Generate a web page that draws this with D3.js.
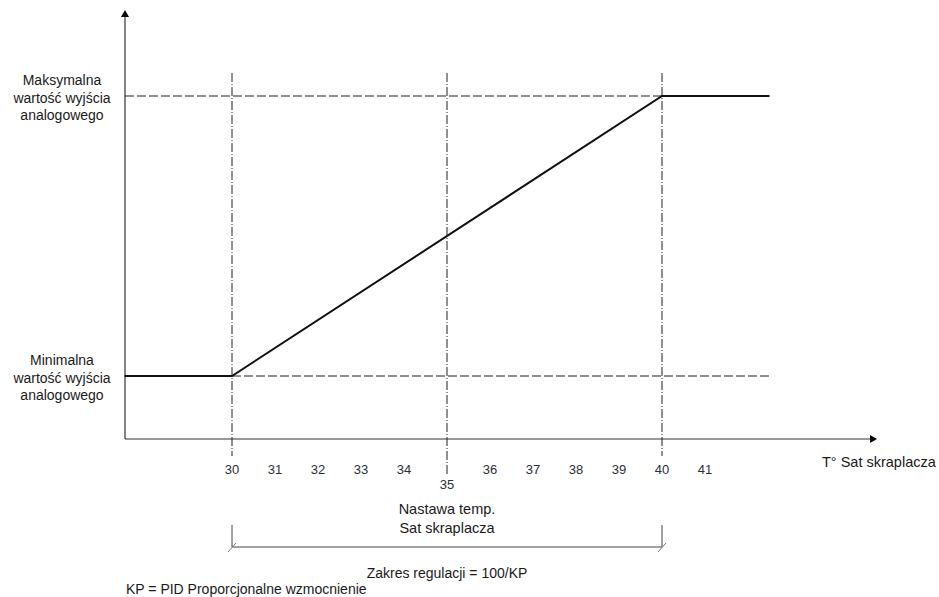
<!DOCTYPE html>
<html>
<head>
<meta charset="utf-8">
<script src="https://cdn.jsdelivr.net/npm/d3@7"></script>
<style>
  body { margin: 0; background: #fff; }
  svg text { font-family: "Liberation Sans", Arial, sans-serif; fill: #1a1a1a; }
</style>
</head>
<body>
<svg id="chart" width="939" height="597"></svg>
<script>
// control curve: output vs condenser saturation temperature
const curveT = [27.5, 30, 40, 42.5];
const curveOut = [0, 0, 100, 100];
const tickValues = [30, 31, 32, 33, 34, 35, 36, 37, 38, 39, 40, 41];
const guideTemps = [30, 35, 40];
const levelLabels = [
  { v: 100, lines: ['Maksymalna', 'wartość wyjścia', 'analogowego'] },
  { v: 0, lines: ['Minimalna', 'wartość wyjścia', 'analogowego'] }
];
const xTitle = 'T° Sat skraplacza';
const setpointLines = ['Nastawa temp.', 'Sat skraplacza'];
const rangeLabel = 'Zakres regulacji = 100/KP';
const footnote = 'KP = PID Proporcjonalne wzmocnienie';

const svg = d3.select('#chart');
const x = d3.scaleLinear().domain([30, 40]).range([232, 662]);
const y = d3.scaleLinear().domain([0, 100]).range([376, 96]);
const axisX0 = 125, axisY0 = 439;

// axes with arrowheads
svg.append('line').attr('x1', axisX0).attr('x2', axisX0).attr('y1', axisY0).attr('y2', 15)
  .attr('stroke', '#333').attr('stroke-width', 1.2);
svg.append('path').attr('d', `M${axisX0 - 4},17 L${axisX0},10 L${axisX0 + 4},17 Z`).attr('fill', '#000');
svg.append('line').attr('x1', axisX0).attr('x2', 872).attr('y1', axisY0).attr('y2', axisY0)
  .attr('stroke', '#333').attr('stroke-width', 1.2);
svg.append('path').attr('d', `M870,${axisY0 - 4} L877,${axisY0} L870,${axisY0 + 4} Z`).attr('fill', '#000');

// tick labels
svg.append('g').selectAll('text').data(tickValues).join('text')
  .attr('x', d => x(d)).attr('y', d => d === 35 ? 489 : 474)
  .attr('text-anchor', 'middle').attr('font-size', 13).style('fill', '#2b2f3a')
  .text(d => d);

// vertical dash-dot guides
svg.append('g').selectAll('line').data(guideTemps).join('line')
  .attr('x1', d => x(d)).attr('x2', d => x(d))
  .attr('y1', 73).attr('y2', d => d === 35 ? 476 : 456)
  .attr('stroke', '#222').attr('stroke-width', 1)
  .attr('stroke-dasharray', '9,2,1,2');

// horizontal dashed guides
svg.append('line').attr('x1', axisX0).attr('x2', x(40)).attr('y1', y(100)).attr('y2', y(100))
  .attr('stroke', '#222').attr('stroke-width', 1).attr('stroke-dasharray', '9,3');
svg.append('line').attr('x1', x(30)).attr('x2', 770).attr('y1', y(0)).attr('y2', y(0))
  .attr('stroke', '#222').attr('stroke-width', 1).attr('stroke-dasharray', '9,3');

// curve
const pts = curveT.map((t, i) => [x(t), y(curveOut[i])]);
svg.append('path').attr('d', d3.line()(pts)).attr('fill', 'none')
  .attr('stroke', '#111').attr('stroke-width', 2);

// level labels
levelLabels.forEach(l => {
  const t = svg.append('text').attr('text-anchor', 'middle').attr('font-size', 14);
  l.lines.forEach((s, i) => {
    t.append('tspan').attr('x', 62).attr('y', y(l.v) - 11 + i * 17.5).text(s);
  });
});

// x title
svg.append('text').attr('x', 822).attr('y', 467).attr('font-size', 14.5).text(xTitle);

// setpoint label
setpointLines.forEach((s, i) => {
  svg.append('text').attr('x', x(35)).attr('y', 514 + i * 19).attr('text-anchor', 'middle')
    .attr('font-size', 14.5).text(s);
});

// range bracket
const bY = 547;
svg.append('line').attr('x1', x(30)).attr('x2', x(40)).attr('y1', bY).attr('y2', bY)
  .attr('stroke', '#444').attr('stroke-width', 1);
[30, 40].forEach(t => {
  svg.append('line').attr('x1', x(t)).attr('x2', x(t)).attr('y1', 525).attr('y2', bY)
    .attr('stroke', '#444').attr('stroke-width', 1);
  svg.append('line').attr('x1', x(t) - 4).attr('x2', x(t) + 4).attr('y1', bY + 5).attr('y2', bY - 4)
    .attr('stroke', '#777').attr('stroke-width', 1);
});
svg.append('text').attr('x', x(35)).attr('y', 578).attr('text-anchor', 'middle')
  .attr('font-size', 14).text(rangeLabel);

svg.append('text').attr('x', 126).attr('y', 594).attr('font-size', 14).text(footnote);
</script>
</body>
</html>
